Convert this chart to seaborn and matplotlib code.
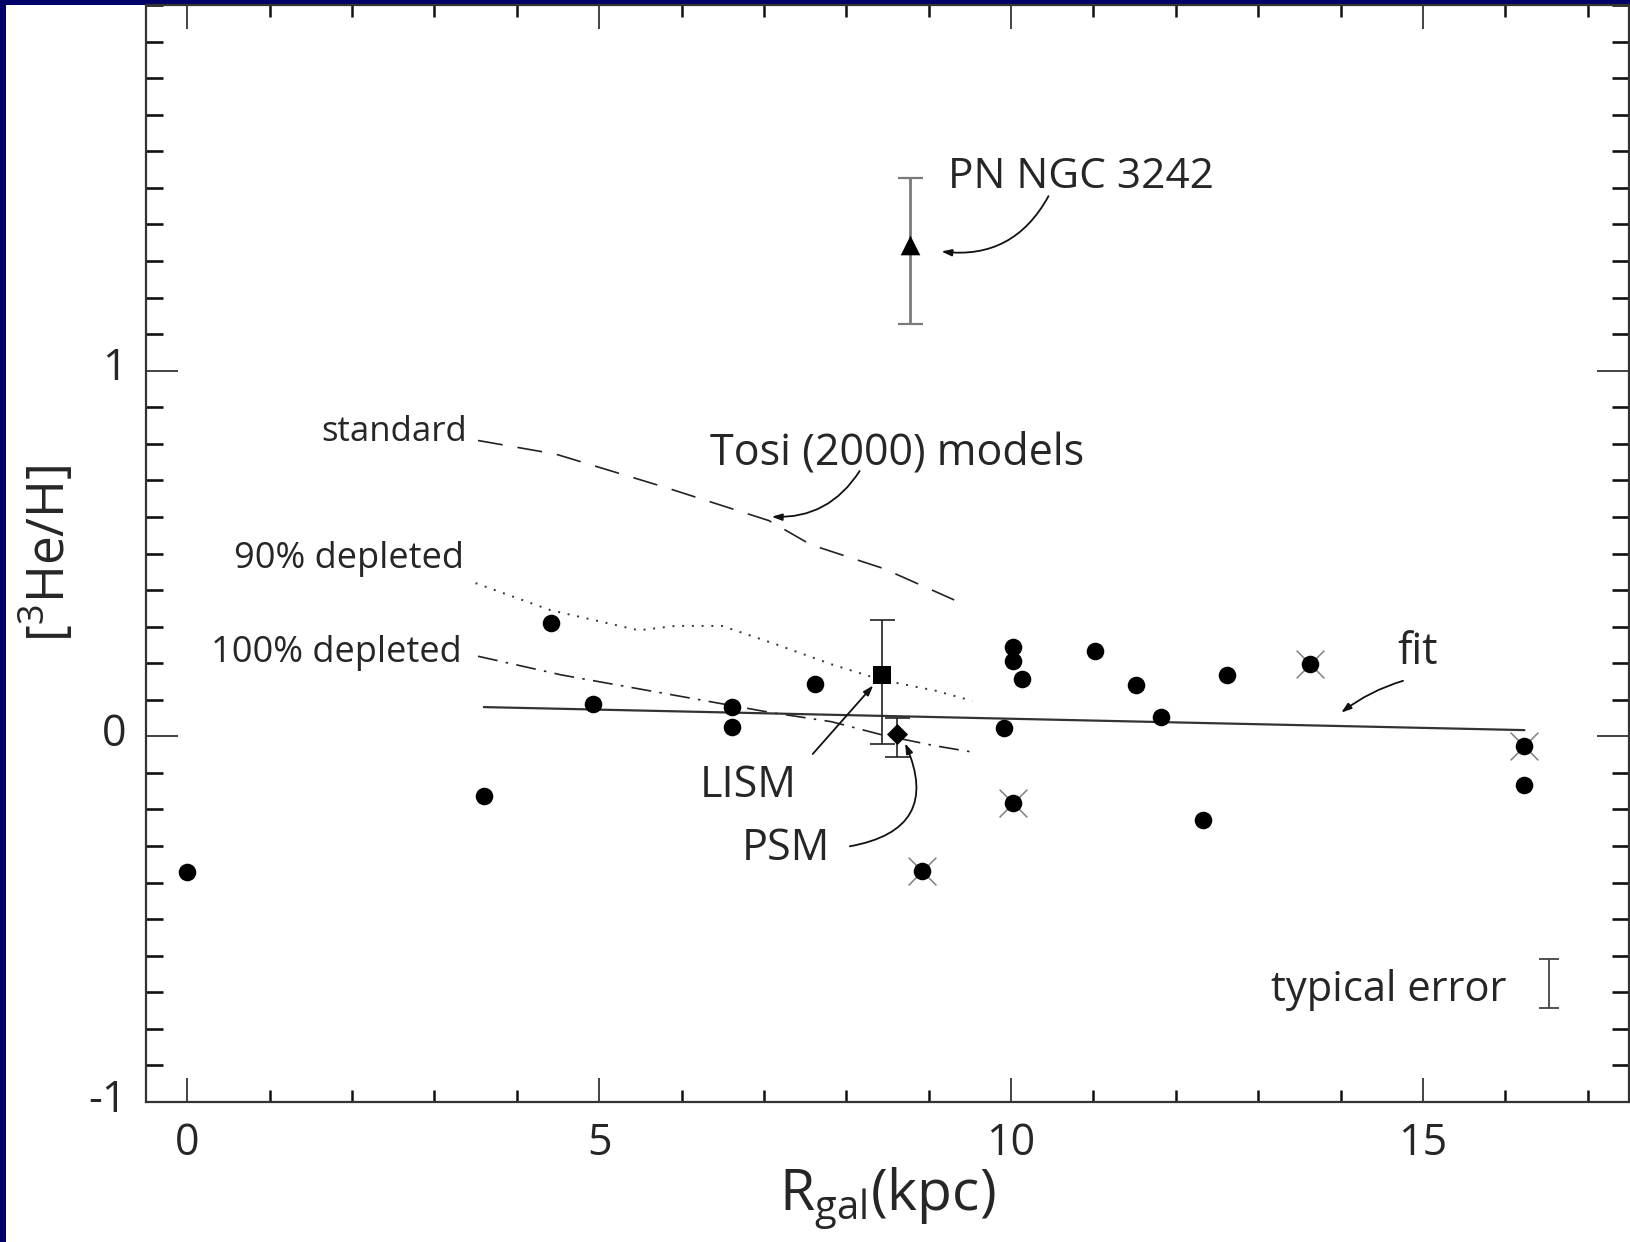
import numpy as np
import pandas as pd
import matplotlib
matplotlib.use("Agg")
import matplotlib.pyplot as plt
import matplotlib.transforms as mtransforms
from matplotlib.patches import Rectangle
from matplotlib.ticker import MultipleLocator
import seaborn as sns

# ---------------- data ----------------
hii_r = [0.0, 3.60, 4.41, 4.92, 6.61, 6.61, 7.62, 9.92, 10.02, 10.02, 10.13,
         11.02, 11.52, 11.82, 12.33, 12.62, 16.23]
hii_he = [-0.37, -0.162, 0.31, 0.088, 0.08, 0.026, 0.142, 0.023, 0.245, 0.205,
          0.157, 0.234, 0.14, 0.054, -0.23, 0.168, -0.134]

crossed_r = [8.92, 10.02, 13.63, 16.23]
crossed_he = [-0.367, -0.182, 0.197, -0.026]

lism_r, lism_he, lism_err_lo, lism_err_hi = 8.43, 0.168, 0.19, 0.15
psm_r, psm_he, psm_err_lo, psm_err_hi = 8.62, 0.006, 0.063, 0.045
pn_r, pn_he, pn_err_lo, pn_err_hi = 8.77, 1.344, 0.216, 0.183

fit_r = [3.60, 16.23]
fit_he = [0.080, 0.017]

std_r = [3.53, 4.47, 5.80, 7.06, 7.57, 8.45, 9.31]
std_he = [0.809, 0.772, 0.681, 0.590, 0.524, 0.459, 0.373]

dep90_r = [3.50, 4.41, 5.48, 5.93, 6.49, 7.13, 7.82, 8.43, 9.08, 9.53]
dep90_he = [0.419, 0.345, 0.290, 0.302, 0.302, 0.253, 0.197, 0.154, 0.125, 0.097]

dep100_r = [3.53, 4.54, 5.80, 7.06, 7.82, 8.45, 9.08, 9.53]
dep100_he = [0.219, 0.168, 0.117, 0.066, 0.040, 0.003, -0.026, -0.043]

typ_r, typ_he, typ_err = 16.53, -0.677, 0.067

x_ticks = [0, 5, 10, 15]
y_ticks = [-1, 0, 1]

# ---------------- style ----------------
sns.set_style("ticks")
plt.rcParams['font.family'] = ['Open Sans', 'DejaVu Sans']
plt.rcParams['mathtext.fontset'] = 'custom'
plt.rcParams['mathtext.rm'] = 'Open Sans'
plt.rcParams['mathtext.it'] = 'Open Sans:italic'

W, H = 1630, 1242
fig = plt.figure(figsize=(W / 100, H / 100), dpi=100)
fig.patch.set_facecolor('#000068')
fig.patches.append(Rectangle((6 / W, 0), 1, 1 - 5 / H, transform=fig.transFigure,
                             facecolor='white', edgecolor='none', zorder=-5))

left, right, top, bottom = 146, 1629, 5, 1102
ax = fig.add_axes([left / W, (H - bottom) / H, (right - left) / W, (bottom - top) / H])
ax.set_facecolor('white')
ax.set_zorder(2)

# model curves
df_std = pd.DataFrame({'r': std_r, 'he': std_he})
df_90 = pd.DataFrame({'r': dep90_r, 'he': dep90_he})
df_100 = pd.DataFrame({'r': dep100_r, 'he': dep100_he})
df_fit = pd.DataFrame({'r': fit_r, 'he': fit_he})

sns.lineplot(data=df_std, x='r', y='he', ax=ax, color='#222222', lw=1.2,
             sort=False, estimator=None)
ax.lines[-1].set_dashes((15, 9))
sns.lineplot(data=df_90, x='r', y='he', ax=ax, color='#333333', lw=1.4,
             sort=False, estimator=None)
ax.lines[-1].set_dashes((1, 4))
sns.lineplot(data=df_100, x='r', y='he', ax=ax, color='#222222', lw=1.2,
             sort=False, estimator=None)
ax.lines[-1].set_dashes((12, 5, 1.5, 5))
sns.lineplot(data=df_fit, x='r', y='he', ax=ax, color='#333333', lw=1.6,
             sort=False, estimator=None)

# error bars
ax.errorbar([pn_r], [pn_he], yerr=[[pn_err_lo], [pn_err_hi]], fmt='none', ecolor='#7a7a7a',
            elinewidth=2.0, capsize=9, capthick=1.6, zorder=3)
ax.errorbar([lism_r], [lism_he], yerr=[[lism_err_lo], [lism_err_hi]], fmt='none',
            ecolor='#222222', elinewidth=1.2, capsize=9, capthick=1.2, zorder=3)
ax.errorbar([psm_r], [psm_he], yerr=[[psm_err_lo], [psm_err_hi]], fmt='none',
            ecolor='#222222', elinewidth=1.2, capsize=9, capthick=1.2, zorder=3)
ax.errorbar([typ_r], [typ_he], yerr=[[typ_err], [typ_err]], fmt='none',
            ecolor='#444444', elinewidth=1.3, capsize=7, capthick=1.3, zorder=3)

# points
df_hii = pd.DataFrame({'r': hii_r, 'he': hii_he})
df_cr = pd.DataFrame({'r': crossed_r, 'he': crossed_he})
sns.scatterplot(data=df_cr, x='r', y='he', ax=ax, marker='x', s=400, color='#808080',
                linewidth=1.1, zorder=4)
sns.scatterplot(data=df_cr, x='r', y='he', ax=ax, marker='o', s=160, color='black',
                edgecolor='black', linewidth=0, zorder=5)
sns.scatterplot(data=df_hii, x='r', y='he', ax=ax, marker='o', s=160, color='black',
                edgecolor='black', linewidth=0, zorder=5)
sns.scatterplot(x=[lism_r], y=[lism_he], ax=ax, marker='s', s=160, color='black',
                linewidth=0, zorder=5)
sns.scatterplot(x=[psm_r], y=[psm_he], ax=ax, marker='D', s=115, color='black',
                linewidth=0, zorder=5)
sns.scatterplot(x=[pn_r], y=[pn_he], ax=ax, marker='^', s=200, color='black',
                linewidth=0, zorder=5)

# axes
ax.set_xlim(-0.5, 17.5)
ax.set_ylim(-1.0, 2.0)
ax.xaxis.set_major_locator(MultipleLocator(5))
ax.xaxis.set_minor_locator(MultipleLocator(1))
ax.yaxis.set_major_locator(MultipleLocator(1))
ax.yaxis.set_minor_locator(MultipleLocator(0.1))
ax.set_xticks(x_ticks)
ax.set_yticks(y_ticks)
ax.set_xticklabels([str(v) for v in x_ticks])
ax.set_yticklabels([str(v) for v in y_ticks])
ax.tick_params(which='both', direction='in', top=True, right=True, color='#111111')
ax.tick_params(axis='x', which='major', length=17, width=1.1, labelsize=31, pad=14)
ax.tick_params(axis='x', which='minor', length=8.5, width=1.8)
ax.tick_params(axis='y', which='major', length=23, width=1.1, labelsize=31, pad=14)
ax.tick_params(axis='y', which='minor', length=12, width=1.9)
for sp in ax.spines.values():
    sp.set_color('#333333')
    sp.set_linewidth(1.6)
    sp.set_visible(True)

off = mtransforms.ScaledTranslation(0, 7 / 100, fig.dpi_scale_trans)
for lab in ax.get_yticklabels():
    lab.set_transform(lab.get_transform() + off)

ax.set_xlabel(r'$\mathregular{R_{gal}}$(kpc)', fontsize=41, labelpad=0)
ax.set_ylabel(r'[$\mathregular{^3}$He/H]', fontsize=37, labelpad=8)

# annotations
dy = -0.014
arrow_kw = dict(arrowstyle='-|>,head_length=0.6,head_width=0.2', lw=1.3, color='#111111')
ax.text(9.23, 1.544 + dy, 'PN NGC 3242', fontsize=30.5, ha='left', va='center')
ax.annotate('', xy=(9.12, 1.327), xytext=(10.47, 1.484),
            arrowprops=dict(**arrow_kw, connectionstyle='arc3,rad=-0.35'))
ax.text(8.61, 0.789 + dy, 'Tosi (2000) models', fontsize=31, ha='center', va='center')
ax.annotate('', xy=(7.06, 0.601), xytext=(8.18, 0.732),
            arrowprops=dict(**arrow_kw, connectionstyle='arc3,rad=-0.3'))
ax.text(3.40, 0.846 + dy, 'standard', fontsize=25, ha='right', va='center')
ax.text(3.36, 0.498 + dy, '90% depleted', fontsize=26, ha='right', va='center')
ax.text(3.33, 0.242 + dy, '100% depleted', fontsize=26, ha='right', va='center')
ax.text(6.81, -0.122 + dy, 'LISM', fontsize=31, ha='center', va='center')
ax.annotate('', xy=(8.35, 0.145), xytext=(7.57, -0.054),
            arrowprops=dict(**arrow_kw))
ax.text(7.27, -0.293 + dy, 'PSM', fontsize=31, ha='center', va='center')
ax.annotate('', xy=(8.70, -0.012), xytext=(8.01, -0.302),
            arrowprops=dict(**arrow_kw, connectionstyle='arc3,rad=0.65'))
ax.text(14.93, 0.242 + dy, 'fit', fontsize=31, ha='center', va='center')
ax.annotate('', xy=(13.98, 0.06), xytext=(14.79, 0.154),
            arrowprops=dict(**arrow_kw, connectionstyle='arc3,rad=0.1'))
ax.text(14.58, -0.68 + dy, 'typical error', fontsize=30, ha='center', va='center')

fig.savefig('out.png', dpi=100, facecolor=fig.get_facecolor())
